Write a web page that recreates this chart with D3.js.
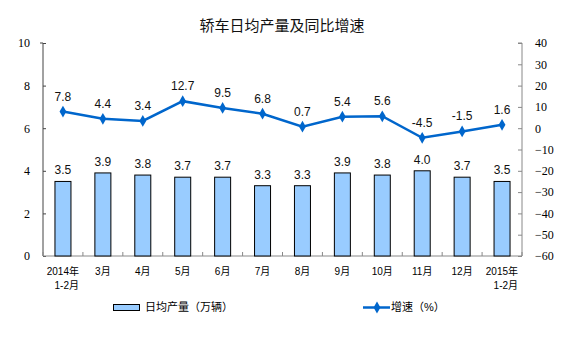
<!DOCTYPE html>
<html><head><meta charset="utf-8">
<script src="https://cdn.jsdelivr.net/npm/d3@7"></script>
<style>body{margin:0;background:#fff}</style>
</head><body>
<svg id="c" width="565" height="350"></svg>
<script>
const categories = ["2014年\n1-2月","3月","4月","5月","6月","7月","8月","9月","10月","11月","12月","2015年\n1-2月"];
const output = [3.5,3.9,3.8,3.7,3.7,3.3,3.3,3.9,3.8,4.0,3.7,3.5];
const growth = [7.8,4.4,3.4,12.7,9.5,6.8,0.7,5.4,5.6,-4.5,-1.5,1.6];
const leftTicks = [0,2,4,6,8,10];
const rightTicks = [40,30,20,10,0,-10,-20,-30,-40,-50,-60];

const svg = d3.select("#c");
const L = 43, R = 522, T = 43, B = 256;
const x = d3.scaleBand().domain(d3.range(categories.length)).range([L,R]);
const yL = d3.scaleLinear().domain([0,10]).range([B,T]);
const yR = d3.scaleLinear().domain([-60,40]).range([B,T]);
const serif = "'Liberation Serif','Times New Roman',serif";
const sans = "'Liberation Sans',Arial,'Noto Sans CJK SC',sans-serif";

svg.append("text").attr("x",282).attr("y",31).attr("text-anchor","middle")
  .attr("font-family","'Noto Sans CJK SC',sans-serif").attr("font-size",15).attr("fill","#111")
  .text("轿车日均产量及同比增速");

// left axis
const gl = svg.append("g").attr("transform",`translate(${L},0)`)
  .call(d3.axisLeft(yL).tickValues(leftTicks).tickSize(-3).tickPadding(13));
gl.select(".domain").attr("stroke","#444").attr("d",`M-3,${T}H0V${B}`);
gl.selectAll("line").attr("stroke","#444");
gl.selectAll("text").attr("font-family",serif).attr("font-size",12).attr("fill","#000");

// right axis
const gr = svg.append("g").attr("transform",`translate(${R},0)`)
  .call(d3.axisRight(yR).tickValues(rightTicks).tickSize(-4).tickPadding(13));
gr.select(".domain").attr("stroke","#888").attr("d",`M-4,${T}H0V${B}`);
gr.selectAll("line").attr("stroke","#888");
gr.selectAll("text").attr("font-family",serif).attr("font-size",12).attr("fill","#000");

// bottom axis
svg.append("line").attr("x1",L).attr("x2",R).attr("y1",B).attr("y2",B).attr("stroke","#888");
svg.selectAll(".bt").data(d3.range(categories.length+1)).enter().append("line")
  .attr("x1",i=>L+i*x.step()).attr("x2",i=>L+i*x.step()).attr("y1",B).attr("y2",B-4).attr("stroke","#888");

const bw = 16;
svg.selectAll(".bar").data(output).enter().append("rect")
  .attr("x",(d,i)=>x(i)+x.bandwidth()/2-bw/2).attr("width",bw)
  .attr("y",d=>yL(d)).attr("height",d=>B-yL(d))
  .attr("fill","#99CCFF").attr("stroke","#000").attr("stroke-width",1);
svg.selectAll(".bl").data(output).enter().append("text")
  .attr("x",(d,i)=>x(i)+x.bandwidth()/2).attr("y",d=>yL(d)-7)
  .attr("text-anchor","middle").attr("font-family",sans).attr("font-size",12).attr("fill","#111")
  .text(d=>d.toFixed(1));

const line = d3.line().x((d,i)=>x(i)+x.bandwidth()/2).y(d=>yR(d));
svg.append("path").datum(growth).attr("d",line).attr("fill","none").attr("stroke","#0066CC").attr("stroke-width",2.5);
svg.selectAll(".pt").data(growth).enter().append("path")
  .attr("d",d3.symbol(d3.symbolDiamond,40)())
  .attr("transform",(d,i)=>`translate(${x(i)+x.bandwidth()/2},${yR(d)})`).attr("fill","#0066CC");
svg.selectAll(".gl").data(growth).enter().append("text")
  .attr("x",(d,i)=>x(i)+x.bandwidth()/2).attr("y",d=>yR(d)-11)
  .attr("text-anchor","middle").attr("font-family",sans).attr("font-size",12).attr("fill","#111")
  .text(d=>d.toFixed(1));

// category labels
categories.forEach((c,i)=>{
  const parts = c.split("\n");
  const cx = x(i)+x.bandwidth()/2;
  const t = svg.append("text").attr("text-anchor", parts.length>1 ? "end" : "middle").attr("font-family",sans)
    .attr("font-size",10).attr("fill","#000");
  parts.forEach((s,j)=>{
    t.append("tspan").attr("x", parts.length>1 ? cx+16 : cx).attr("y",275+j*14).text(s);
  });
});

// legend
svg.append("rect").attr("x",113.5).attr("y",304.5).attr("width",26).attr("height",6).attr("fill","#99CCFF").attr("stroke","#000");
svg.append("text").attr("x",145).attr("y",311).attr("font-family",sans).attr("font-size",11).attr("fill","#000").text("日均产量（万辆）");
svg.append("line").attr("x1",363).attr("x2",390).attr("y1",307.5).attr("y2",307.5).attr("stroke","#0066CC").attr("stroke-width",2.5);
svg.append("path").attr("d",d3.symbol(d3.symbolDiamond,40)()).attr("transform","translate(377,307.5)").attr("fill","#0066CC");
svg.append("text").attr("x",391).attr("y",311).attr("font-family",sans).attr("font-size",11).attr("fill","#000").text("增速（%）");
</script>
</body></html>
